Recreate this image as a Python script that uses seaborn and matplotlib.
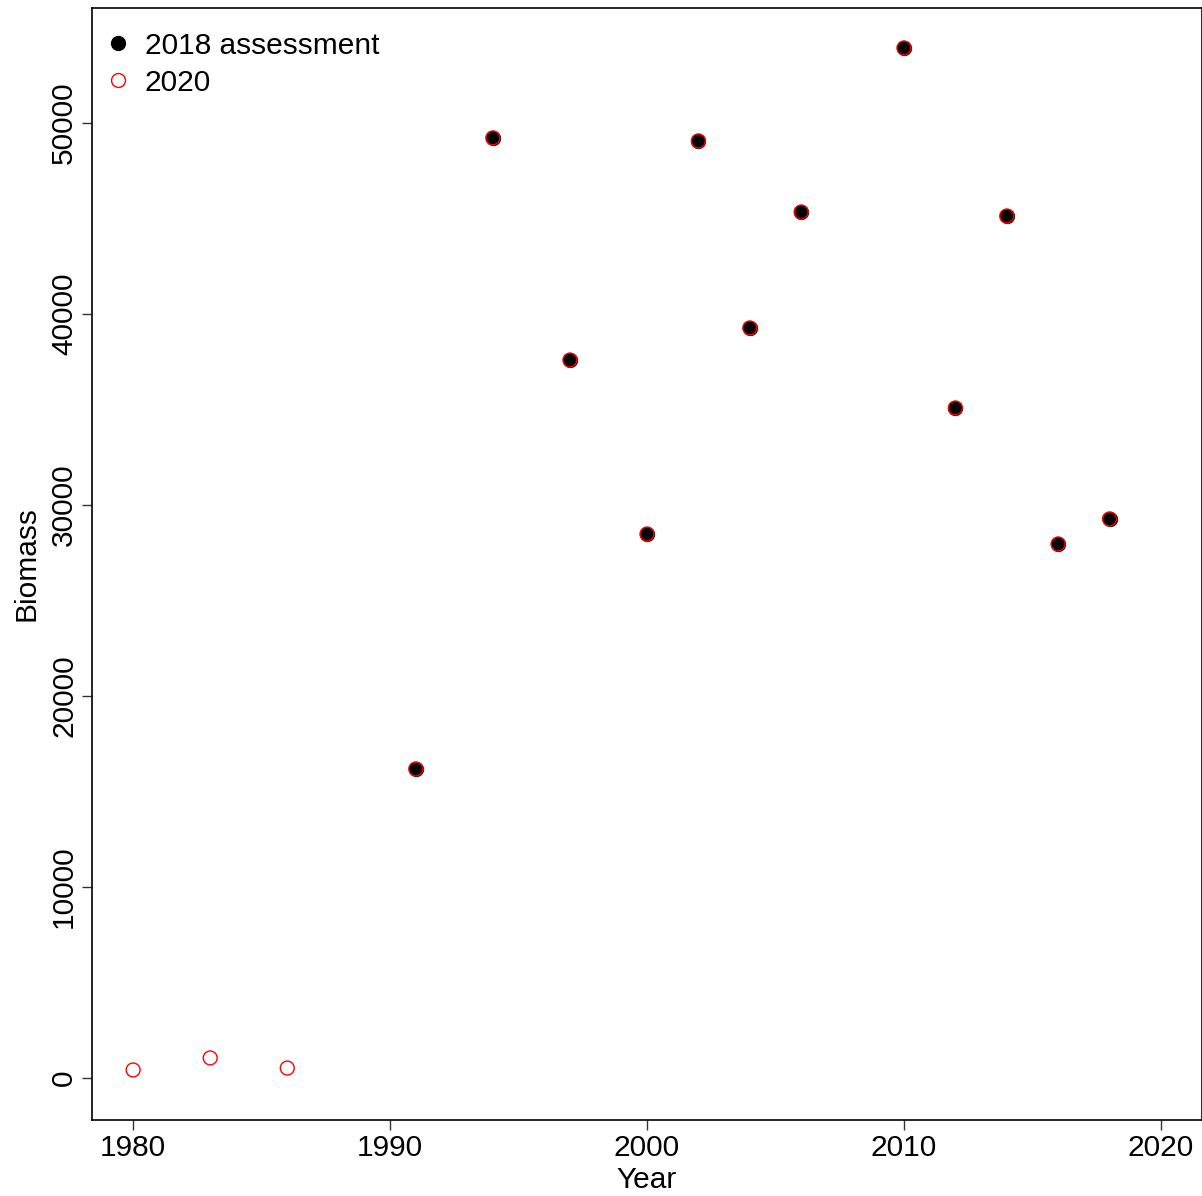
import matplotlib
matplotlib.use("Agg")
import matplotlib.pyplot as plt
from matplotlib.lines import Line2D
import seaborn as sns
import pandas as pd

# Survey biomass estimates
years_2018 = [1991, 1994, 1997, 2000, 2002, 2004, 2006, 2010, 2012, 2014, 2016, 2018]
biomass_2018 = [16180, 49220, 37590, 28480, 49060, 39270, 45340, 53930, 35080, 45130, 27960, 29270]

years_2020 = [1980, 1983, 1986, 1991, 1994, 1997, 2000, 2002, 2004, 2006, 2010, 2012, 2014, 2016, 2018]
biomass_2020 = [420, 1050, 520, 16180, 49220, 37590, 28480, 49060, 39270, 45340, 53930, 35080, 45130, 27960, 29270]

x_ticks = [1980, 1990, 2000, 2010, 2020]
y_ticks = [0, 10000, 20000, 30000, 40000, 50000]

df18 = pd.DataFrame({"Year": years_2018, "Biomass": biomass_2018})
df20 = pd.DataFrame({"Year": years_2020, "Biomass": biomass_2020})

sns.set_style("ticks")
plt.rcParams["font.family"] = ["Liberation Sans", "DejaVu Sans"]
plt.rcParams["text.color"] = "black"
plt.rcParams["axes.labelcolor"] = "black"
plt.rcParams["xtick.color"] = "black"
plt.rcParams["ytick.color"] = "black"

FS = 21.5

fig = plt.figure(figsize=(12.02, 11.96), dpi=100)
ax = fig.add_axes([92 / 1202, 76 / 1196, 1 - 92 / 1202, (1120 - 8) / 1196])

sns.scatterplot(data=df18, x="Year", y="Biomass", ax=ax, color="black",
                s=110, marker="o", edgecolor="black", linewidth=0.5, zorder=3)
sns.scatterplot(data=df20, x="Year", y="Biomass", ax=ax, facecolor="none",
                edgecolor="red", s=100, marker="o", linewidth=1.0, zorder=4)

ax.set_xlim(1978.4, 2021.6)
ax.set_ylim(-2200, 56020)
ax.set_xticks(x_ticks)
ax.set_yticks(y_ticks)
ax.set_xticklabels([str(v) for v in x_ticks], fontsize=FS)
ax.set_yticklabels([str(v) for v in y_ticks], fontsize=FS, rotation=90, va="center")
ax.tick_params(axis="both", direction="out", length=7, width=1, color="#333333", pad=3)
ax.set_xlabel("Year", fontsize=FS, labelpad=3)
ax.set_ylabel("Biomass", fontsize=FS, labelpad=7)
for sp in ax.spines.values():
    sp.set_visible(True)
    sp.set_linewidth(1.2)
    sp.set_color("black")

handles = [
    Line2D([], [], marker="o", linestyle="none", color="black", markersize=10),
    Line2D([], [], marker="o", linestyle="none", markerfacecolor="none",
           markeredgecolor="red", markeredgewidth=1.0, markersize=10),
]
ax.legend(handles, ["2018 assessment", "2020"], loc="upper left", frameon=False,
          fontsize=FS, handletextpad=0.4, labelspacing=0.3, borderaxespad=0.0,
          handlelength=1.0, borderpad=0.5, bbox_to_anchor=(-0.0036, 0.992))

fig.savefig("out.png", dpi=100)
